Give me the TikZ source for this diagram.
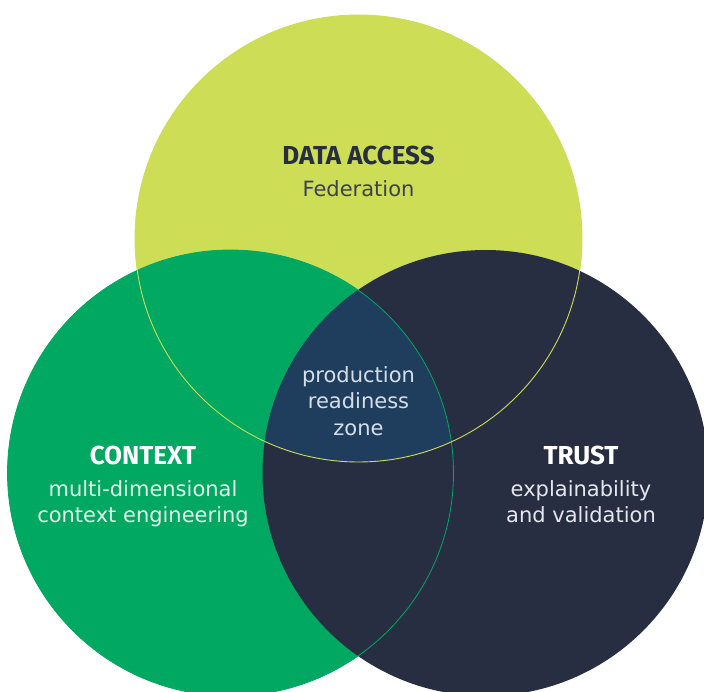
\documentclass[tikz,border=0pt]{standalone}
\usepackage{fontspec}
\setmainfont{DejaVu Sans}
\newfontfamily\headfont{Fira Sans}
\definecolor{lime}{RGB}{205,221,85}
\definecolor{leaf}{RGB}{0,168,98}
\definecolor{navy}{RGB}{39,46,66}
\definecolor{core}{RGB}{31,62,94}
\definecolor{slate}{RGB}{60,65,80}
\definecolor{paleleaf}{RGB}{228,243,234}
\definecolor{palenavy}{RGB}{228,231,236}
\definecolor{mist}{RGB}{214,222,232}
\tikzset{
  head/.style={font=\headfont\bfseries\fontsize{26}{30}\selectfont, anchor=base, inner sep=0pt},
  body/.style={font=\fontsize{21}{26}\selectfont, anchor=base, inner sep=0pt},
}
\begin{document}
\begin{tikzpicture}[x=1pt,y=-1pt]
  \clip (0,0) rectangle (704,692);
  \fill[white] (0,0) rectangle (704,692);

  % circle centres
  \coordinate (cTop)   at (358.5,238.5);
  \coordinate (cLeft)  at (230.5,473);
  \coordinate (cRight) at (485.5,473);

  % three discs, later ones covering earlier ones
  \fill[lime] (cTop)   circle[radius=223.5pt];
  \fill[leaf] (cLeft)  circle[radius=223pt];
  \fill[navy] (cRight) circle[radius=223pt];

  % common part of all three
  \begin{scope}
    \clip (cTop)  circle[radius=223.5pt];
    \clip (cLeft) circle[radius=223pt];
    \fill[core] (cRight) circle[radius=223pt];
  \end{scope}

  % thin outlines of the upper and left discs
  \draw[leaf, line width=0.8pt] (cLeft) circle[radius=223pt];
  \draw[lime, line width=0.9pt] (cTop)  circle[radius=223.5pt];

  % labels
  \node[head, text=navy]  (dataHead) at (358.5,164.5) {DATA ACCESS};
  \node[body, text=slate] (dataSub)  at (358.5,196.5) {Federation};

  \node[body, text=mist] (zoneA) at (358.5,383) {production};
  \node[body, text=mist] (zoneB) at (358.5,409) {readiness};
  \node[body, text=mist] (zoneC) at (358.5,435) {zone};

  \node[head, text=white]    (ctxHead) at (143,464) {CONTEXT};
  \node[body, text=paleleaf] (ctxA)    at (143,496) {multi-dimensional};
  \node[body, text=paleleaf] (ctxB)    at (143,522) {context engineering};

  \node[head, text=white]    (trustHead) at (581,464) {TRUST};
  \node[body, text=palenavy] (trustA)    at (581,496) {explainability};
  \node[body, text=palenavy] (trustB)    at (581,522) {and validation};
\end{tikzpicture}
\end{document}
